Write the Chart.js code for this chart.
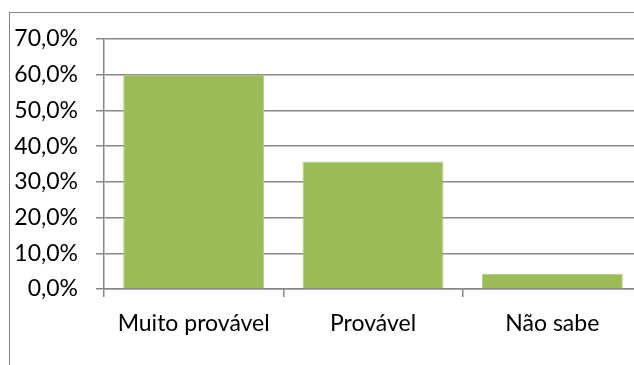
<!DOCTYPE html>
<html>
<head>
<meta charset="utf-8">
<script src="https://cdn.jsdelivr.net/npm/chart.js@4/dist/chart.umd.min.js"></script>
<style>
  html, body { margin: 0; padding: 0; background: #fff; overflow: hidden; width: 634px; height: 365px; }
  #frame { position: absolute; left: 9px; top: 12px; width: 700px; height: 400px; border-left: 1px solid #878787; border-top: 1px solid #878787; }
  #chart { position: absolute; left: 0; top: 0; }
</style>
</head>
<body>
<div id="frame"></div>
<canvas id="chart" width="660" height="365"></canvas>
<script>
/* Chart data */
const categories = ['Muito provável', 'Provável', 'Não sabe'];
const shares = [60.0, 35.7, 4.3];
const yTickLabels = ['0,0%', '10,0%', '20,0%', '30,0%', '40,0%', '50,0%', '60,0%', '70,0%'];

const axisGray = '#888888';
const fontFamily = 'Lato, "Open Sans", sans-serif';

const ctx = document.getElementById('chart').getContext('2d');

new Chart(ctx, {
  type: 'bar',
  data: {
    labels: categories,
    datasets: [
      {
        data: shares,
        backgroundColor: '#9bbb59',
        borderColor: '#b3cc85',
        borderWidth: 1,
        categoryPercentage: 1,
        barPercentage: 0.786
      }
    ]
  },
  options: {
    responsive: false,
    animation: false,
    layout: { padding: { top: 39, right: 18, bottom: 0, left: 0 } },
    plugins: {
      legend: { display: false },
      tooltip: { enabled: false }
    },
    scales: {
      x: {
        afterFit: scale => { scale.height = 76; },
        grid: { drawOnChartArea: false, drawTicks: true, tickLength: 8, color: axisGray, lineWidth: 1.5 },
        border: { display: true, color: axisGray, width: 1.5 },
        ticks: { color: '#000', padding: 13, font: { family: fontFamily, size: 23 } }
      },
      y: {
        min: 0,
        max: 70,
        afterFit: scale => { scale.width = 104; },
        grid: { color: axisGray, lineWidth: 1.5, tickLength: 8 },
        border: { display: true, color: axisGray, width: 1.5 },
        ticks: {
          stepSize: 10,
          color: '#000',
          padding: 18,
          font: { family: fontFamily, size: 23 },
          callback: (value, i) => yTickLabels[i]
        }
      }
    }
  }
});
</script>
</body>
</html>
